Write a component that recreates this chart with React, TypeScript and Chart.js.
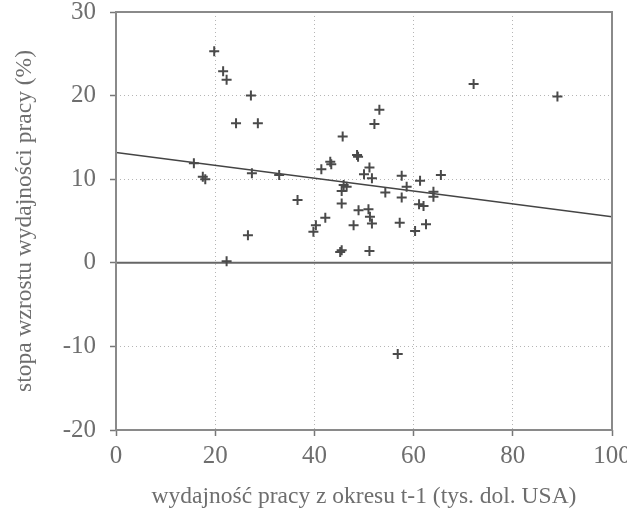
import { useEffect, useRef } from "react";
import { Chart, registerables } from "chart.js";

Chart.register(...registerables);

const productivityX = [
  19.8, 21.6, 22.3, 27.2, 24.2, 28.6, 15.7, 17.5, 18.0, 27.4, 32.9, 36.6, 26.6, 22.3,
  41.4, 43.2, 43.4, 45.7, 48.6, 48.8, 53.1, 52.1, 51.1, 50.0, 51.6, 45.9, 46.5, 45.5,
  54.3, 45.5, 48.9, 50.9, 42.2, 51.2, 40.3, 47.9, 51.6, 39.8, 45.5, 45.2, 51.1, 57.6,
  61.3, 65.5, 58.6, 64.0, 64.0, 57.6, 61.1, 62.0, 57.2, 62.5, 60.3, 56.8, 72.1, 89.0,
];
const growthY = [
  25.3, 22.9, 21.9, 20.0, 16.7, 16.7, 11.9, 10.3, 10.0, 10.7, 10.5, 7.5, 3.3, 0.2,
  11.2, 12.1, 11.8, 15.1, 12.9, 12.7, 18.3, 16.6, 11.4, 10.6, 10.1, 9.3, 9.1, 8.6,
  8.4, 7.1, 6.3, 6.4, 5.4, 5.5, 4.5, 4.5, 4.7, 3.7, 1.5, 1.3, 1.4, 10.4,
  9.8, 10.5, 9.1, 8.5, 7.9, 7.8, 7.0, 6.8, 4.8, 4.6, 3.8, -10.9, 21.4, 19.9,
];
const trendX = [0, 100];
const trendY = [13.2, 5.5];
const zeroX = [0, 100];
const zeroY = [0, 0];
const xTickValues = [0, 20, 40, 60, 80, 100];
const yTickValues = [-20, -10, 0, 10, 20, 30];

const xTitle = "wydajność pracy z okresu t-1 (tys. dol. USA)";
const yTitle = "stopa wzrostu wydajności pracy (%)";

const FONT = "'Liberation Serif', 'Times New Roman', serif";
const TEXT = "#6e6e6e";

const boxPlugin = {
  id: "boxPlugin",
  afterDatasetsDraw(chart: any) {
    const { ctx, chartArea } = chart;
    ctx.save();
    ctx.setLineDash([]);
    ctx.strokeStyle = "#8a8a8a";
    ctx.lineWidth = 2;
    ctx.strokeRect(chartArea.left, chartArea.top, chartArea.right - chartArea.left, chartArea.bottom - chartArea.top);
    ctx.restore();
  },
};

export default function App() {
  const ref = useRef<HTMLCanvasElement | null>(null);

  useEffect(() => {
    if (!ref.current) return;
    const points = productivityX.map((x, i) => ({ x, y: growthY[i] }));
    const chart = new Chart(ref.current, {
      type: "scatter",
      data: {
        datasets: [
          {
            data: points,
            pointStyle: "cross",
            pointRadius: 5,
            pointBorderWidth: 2,
            borderColor: "#4a4a4a",
            backgroundColor: "#4a4a4a",
          },
          {
            type: "line",
            data: trendX.map((x, i) => ({ x, y: trendY[i] })),
            borderColor: "#444",
            borderWidth: 1.6,
            pointRadius: 0,
            showLine: true,
          },
          {
            type: "line",
            data: zeroX.map((x, i) => ({ x, y: zeroY[i] })),
            borderColor: "#666",
            borderWidth: 2,
            pointRadius: 0,
            showLine: true,
          },
        ],
      } as any,
      options: {
        animation: false,
        responsive: false,
        maintainAspectRatio: false,
        layout: { padding: { left: 0, top: 12, right: 15, bottom: 0 } },
        plugins: { legend: { display: false }, tooltip: { enabled: false } },
        scales: {
          x: {
            type: "linear",
            min: 0,
            max: 100,
            afterBuildTicks: (s: any) => {
              s.ticks = xTickValues.map((v) => ({ value: v }));
            },
            afterFit: (s: any) => {
              s.height = 92;
              s.paddingLeft = 0;
              s.paddingRight = 0;
            },
            ticks: { color: TEXT, font: { family: FONT, size: 25 }, padding: 5, maxRotation: 0 },
            grid: { color: "#b5b5b5", lineWidth: 1, tickColor: "#777", tickLength: 6, tickWidth: 1.5 },
            border: { display: false, dash: [1, 3] },
            title: { display: true, text: xTitle, color: TEXT, font: { family: FONT, size: 23.5 }, padding: { top: 4, bottom: 11 } },
          },
          y: {
            type: "linear",
            min: -20,
            max: 30,
            afterBuildTicks: (s: any) => {
              s.ticks = yTickValues.map((v) => ({ value: v }));
            },
            afterFit: (s: any) => {
              s.width = 116;
              s.paddingTop = 0;
              s.paddingBottom = 0;
            },
            ticks: { color: TEXT, font: { family: FONT, size: 25 }, padding: 14 },
            grid: { color: "#b5b5b5", lineWidth: 1, tickColor: "#777", tickLength: 6, tickWidth: 1.5 },
            border: { display: false, dash: [1, 3] },
            title: { display: true, text: yTitle, color: TEXT, font: { family: FONT, size: 23.5 }, padding: { top: 11, bottom: 4 } },
          },
        },
      } as any,
      plugins: [boxPlugin],
    });
    return () => chart.destroy();
  }, []);

  return (
    <div style={{ position: "absolute", left: 0, top: 0, width: 627, height: 522, background: "#fff" }}>
      <canvas ref={ref} width={627} height={522} style={{ width: 627, height: 522 }} />
    </div>
  );
}
